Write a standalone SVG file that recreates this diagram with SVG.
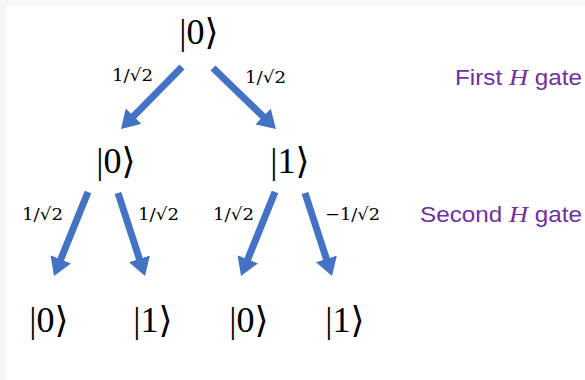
<svg xmlns="http://www.w3.org/2000/svg" width="585" height="380" viewBox="0 0 585 380">
<defs>
<marker id="ah" markerUnits="userSpaceOnUse" markerWidth="20" markerHeight="22" viewBox="0 0 20 22" refX="8" refY="11" orient="auto">
<path d="M0,0 L18,11 L0,22 z" fill="#4472C4"/>
</marker>
<style>
.ket{font-family:"Liberation Serif","DejaVu Serif",serif;font-size:36px;fill:#000;text-anchor:middle}
.amp{font-family:"DejaVu Serif","Liberation Serif",serif;font-size:17px;fill:#000}
.lbl{font-family:"Liberation Sans","DejaVu Sans",sans-serif;font-size:22px;fill:#7030A0}
.h{font-family:"Liberation Serif","DejaVu Serif",serif;font-style:italic;font-size:24px}
.arr{stroke:#4472C4;stroke-width:7;fill:none;marker-end:url(#ah)}
</style>
</defs>
<rect width="585" height="380" fill="#f7f7f7"/>
<rect x="6" y="6" width="579" height="374" fill="#fff"/>
<g id="connectors">
<line class="arr" x1="182" y1="67" x2="128" y2="121.9"/>
<line class="arr" x1="213" y1="68" x2="268.8" y2="122"/>
<line class="arr" x1="88" y1="192" x2="57.75" y2="266.7"/>
<line class="arr" x1="118" y1="193" x2="141.9" y2="266.5"/>
<line class="arr" x1="275" y1="192" x2="244.75" y2="266.7"/>
<line class="arr" x1="305" y1="193" x2="328.9" y2="266.5"/>
</g>
<g id="n0"><text class="ket" x="199" y="44">|0⟩</text></g>
<g id="n1"><text class="ket" x="116" y="173">|0⟩</text></g>
<g id="n2"><text class="ket" x="290" y="173">|1⟩</text></g>
<g id="n3"><text class="ket" x="49" y="332">|0⟩</text></g>
<g id="n4"><text class="ket" x="153" y="332">|1⟩</text></g>
<g id="n5"><text class="ket" x="249" y="332">|0⟩</text></g>
<g id="n6"><text class="ket" x="345" y="332">|1⟩</text></g>
<g id="labels">
<text class="amp" x="112" y="81" textLength="41" lengthAdjust="spacingAndGlyphs">1/√2</text>
<text class="amp" x="245" y="83" textLength="41" lengthAdjust="spacingAndGlyphs">1/√2</text>
<text class="amp" x="22" y="220" textLength="41" lengthAdjust="spacingAndGlyphs">1/√2</text>
<text class="amp" x="138" y="220" textLength="41" lengthAdjust="spacingAndGlyphs">1/√2</text>
<text class="amp" x="213" y="220" textLength="41" lengthAdjust="spacingAndGlyphs">1/√2</text>
<text class="amp" x="325" y="220" textLength="55" lengthAdjust="spacingAndGlyphs">−1/√2</text>
<text class="lbl" x="455" y="85" textLength="127" lengthAdjust="spacingAndGlyphs">First <tspan class="h">H</tspan> gate</text>
<text class="lbl" x="420" y="222" textLength="162" lengthAdjust="spacingAndGlyphs">Second <tspan class="h">H</tspan> gate</text>
</g>
</svg>
